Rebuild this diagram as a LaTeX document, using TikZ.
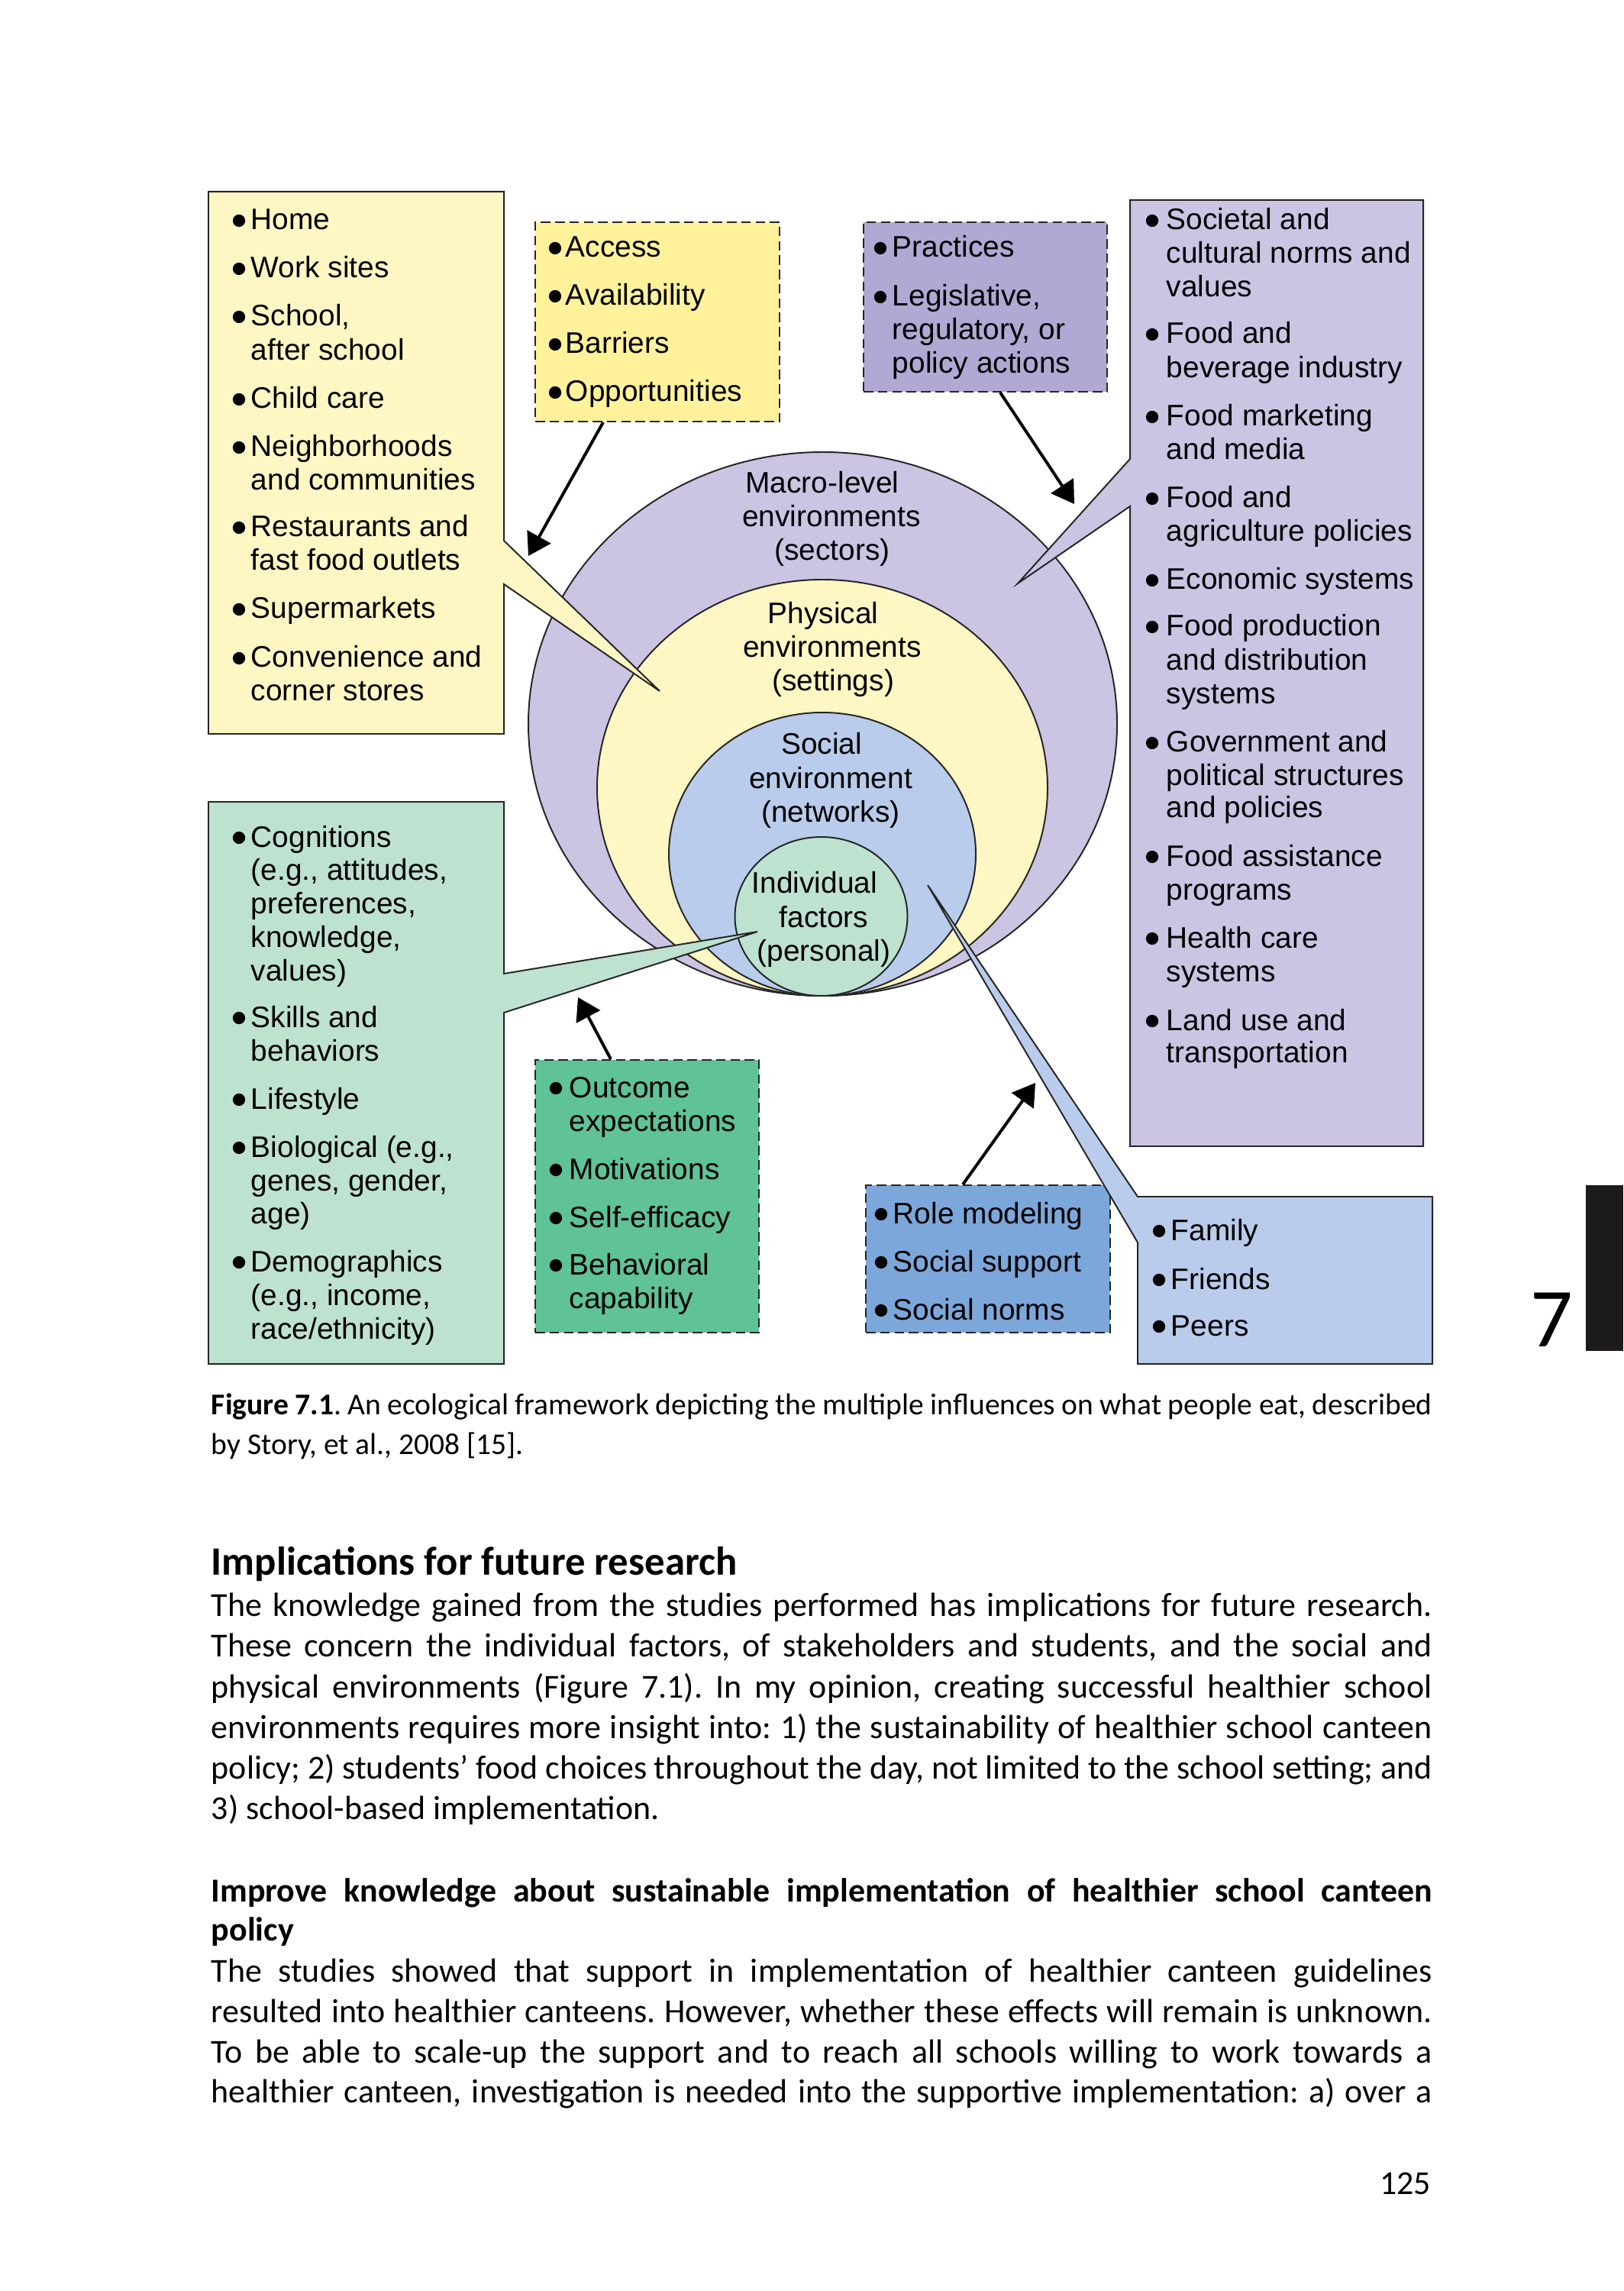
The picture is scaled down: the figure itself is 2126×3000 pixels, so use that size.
\documentclass[tikz,border=0pt]{standalone}
\usepackage{fontspec}
\setmainfont{Carlito}
\newfontfamily\arialfont{Liberation Sans}
\usetikzlibrary{arrows.meta,fit}

\definecolor{macroL}{HTML}{CBC5E3}
\definecolor{macroD}{HTML}{B1A9D4}
\definecolor{physL}{HTML}{FFF7C3}
\definecolor{physD}{HTML}{FFF29B}
\definecolor{socL}{HTML}{BACCEB}
\definecolor{socD}{HTML}{7CA7DA}
\definecolor{indL}{HTML}{BEE2D0}
\definecolor{indD}{HTML}{60C297}
\definecolor{tabgray}{HTML}{1C1A1A}

\newcommand{\jl}[1]{\makebox[127.9mm][s]{#1}}

\tikzset{
  lbl/.style={font=\arialfont\fontsize{8.85}{10}\selectfont, anchor=base west, inner sep=0pt},
  ring lbl/.style={lbl, anchor=base},
  dot/.style={circle, fill=black, inner sep=0pt, minimum size=1.3mm},
  boxline/.style={draw=black!85, line width=0.45pt},
  dashbox/.style={boxline, dash pattern=on 1mm off 0.5mm, inner sep=0pt},
  arr/.style={line width=0.9pt, -{Triangle[length=2.3mm,width=2.8mm]}},
  body/.style={font=\fontsize{10}{12}\selectfont, anchor=base west, inner sep=0pt},
  caption/.style={body, font=\fontsize{9}{11}\selectfont},
}

\begin{document}
\frenchspacing
\begin{tikzpicture}[x=0.08mm, y=-0.08mm]
  \useasboundingbox (0,0) rectangle (2126,3000);
  \fill[white] (0,0) rectangle (2126,3000);

  % nested levels
  \draw[boxline, fill=macroL] (1077.5,948) ellipse [x radius=385.5, y radius=356];
  \draw[boxline, fill=physL] (1077,1031.5) ellipse [x radius=295, y radius=272.5];
  \draw[boxline, fill=socL] (1077,1118.5) ellipse [x radius=201, y radius=185.5];
  \draw[boxline, fill=indL] (1075.5,1200) ellipse [x radius=113, y radius=104];

  % boxes with callouts
  \draw[boxline, fill=physL] (273,251) -- (660,251) -- (660,708) -- (864,905)
    -- (660,765) -- (660,961) -- (273,961) -- cycle;
  \draw[boxline, fill=macroL] (1480,262) -- (1864,262) -- (1864,1501) -- (1480,1501)
    -- (1480,663) -- (1333,764) -- (1480,601) -- cycle;
  \draw[boxline, fill=indL] (273,1050) -- (660,1050) -- (660,1275) -- (992,1220)
    -- (660,1326) -- (660,1786) -- (273,1786) -- cycle;

  % dashed boxes
  \node[dashbox, fill=physD, fit={(701,291) (1021,552)}] (access) {};
  \node[dashbox, fill=macroD, fit={(1131,291) (1450,513)}] (practice) {};
  \node[dashbox, fill=indD, fit={(701,1388) (994,1745)}] (outcome) {};
  \node[dashbox, fill=socD, fit={(1134,1552) (1454,1745)}] (role) {};

  \draw[boxline, fill=socL] (1490,1567) -- (1876,1567) -- (1876,1786) -- (1490,1786)
    -- (1490,1627) -- (1215,1159) -- cycle;

  % arrows
  \coordinate (access-tip) at (692,728);
  \coordinate (practice-tip) at (1407,660);
  \coordinate (outcome-tip) at (757,1306);
  \coordinate (role-tip) at (1356,1418);
  \draw[arr] (790,0 |- access.south) -- (access-tip);
  \draw[arr] (1310,0 |- practice.south) -- (practice-tip);
  \draw[arr] (800,0 |- outcome.north) -- (outcome-tip);
  \draw[arr] (1261,0 |- role.north) -- (role-tip);

  % level labels
  \foreach \x/\y/\t [count=\i] in {1077/646/Macro-level, 1089/690/environments, 1090/734/{(sectors)}}
    \node[ring lbl] (macro-\i) at (\x,\y) {\t};
  \foreach \x/\y/\t [count=\i] in {1078/817/Physical, 1090/861/environments, 1091/905/{(settings)}}
    \node[ring lbl] (phys-\i) at (\x,\y) {\t};
  \foreach \x/\y/\t [count=\i] in {1076/988/Social, 1088/1033/environment, 1088/1077/{(networks)}}
    \node[ring lbl] (soc-\i) at (\x,\y) {\t};
  \foreach \x/\y/\t [count=\i] in {1067/1170/Individual, 1079/1214/factors, 1079/1258/{(personal)}}
    \node[ring lbl] (ind-\i) at (\x,\y) {\t};

  % settings
  \foreach \y/\t [count=\i] in {301/Home, 364/Work sites, 427/{School,}, 472/after school,
      535/Child care, 598/Neighborhoods, 642/and communities, 703/Restaurants and,
      747/fast food outlets, 810/Supermarkets, 874/Convenience and, 918/corner stores}
    \node[lbl] (set-\i) at (328,\y) {\t};
  \foreach \y [count=\i] in {301,364,427,535,598,703,810,874}
    \node[dot] (set-dot-\i) at (313,\y-12) {};

  % access
  \foreach \y/\t [count=\i] in {337/Access, 400/Availability, 463/Barriers, 526/Opportunities}
    \node[lbl] (acc-\i) at (740,\y) {\t};
  \foreach \y [count=\i] in {337,400,463,526}
    \node[dot] (acc-dot-\i) at (727,\y-12) {};

  % practices
  \foreach \y/\t [count=\i] in {337/Practices, 401/{Legislative,}, 445/{regulatory, or}, 489/policy actions}
    \node[lbl] (prac-\i) at (1168,\y) {\t};
  \foreach \y [count=\i] in {337,401}
    \node[dot] (prac-dot-\i) at (1153,\y-12) {};

  % sectors
  \foreach \y/\t [count=\i] in {301/Societal and, 345/cultural norms and, 389/values,
      450/Food and, 495/beverage industry, 558/Food marketing, 602/and media,
      665/Food and, 709/agriculture policies, 772/Economic systems,
      833/Food production, 878/and distribution, 922/systems,
      985/Government and, 1029/political structures, 1071/and policies,
      1134/Food assistance, 1178/programs, 1241/Health care, 1285/systems,
      1349/Land use and, 1391/transportation}
    \node[lbl] (sec-\i) at (1527,\y) {\t};
  \foreach \y [count=\i] in {301,450,558,665,772,833,985,1134,1241,1349}
    \node[dot] (sec-dot-\i) at (1509,\y-12) {};

  % individual
  \foreach \y/\t [count=\i] in {1109/Cognitions, 1153/{(e.g., attitudes,}, 1196/{preferences,},
      1240/{knowledge,}, 1284/{values)}, 1345/Skills and, 1389/behaviors, 1452/Lifestyle,
      1515/{Biological (e.g.,}, 1559/{genes, gender,}, 1602/{age)}, 1665/Demographics,
      1709/{(e.g., income,}, 1753/{race/ethnicity)}}
    \node[lbl] (ind-item-\i) at (328,\y) {\t};
  \foreach \y [count=\i] in {1109,1345,1452,1515,1665}
    \node[dot] (ind-dot-\i) at (313,\y-12) {};

  % outcome
  \foreach \y/\t [count=\i] in {1437/Outcome, 1481/expectations, 1544/Motivations,
      1607/Self-efficacy, 1669/Behavioral, 1713/capability}
    \node[lbl] (out-\i) at (745,\y) {\t};
  \foreach \y [count=\i] in {1437,1544,1607,1669}
    \node[dot] (out-dot-\i) at (728,\y-12) {};

  % role
  \foreach \y/\t [count=\i] in {1602/Role modeling, 1665/Social support, 1728/Social norms}
    \node[lbl] (role-\i) at (1169,\y) {\t};
  \foreach \y [count=\i] in {1602,1665,1728}
    \node[dot] (role-dot-\i) at (1154,\y-12) {};

  % networks
  \foreach \y/\t [count=\i] in {1624/Family, 1688/Friends, 1749/Peers}
    \node[lbl] (net-\i) at (1533,\y) {\t};
  \foreach \y [count=\i] in {1624,1688,1749}
    \node[dot] (net-dot-\i) at (1518,\y-12) {};

  % caption and text
  \node[caption] (cap-1) at (276,1852) {\jl{\textbf{Figure 7.1}. An ecological framework depicting the multiple influences on what people eat, described}};
  \node[caption] (cap-2) at (276,1904) {by Story, et al., 2008 [15].};

  \node[body, font=\bfseries\fontsize{12}{14}\selectfont] (head-1) at (276,2062) {Implications for future research};
  \foreach \y/\t [count=\i] in {
      2116/{\jl{The knowledge gained from the studies performed has implications for future research.}},
      2169/{\jl{These concern the individual factors, of stakeholders and students, and the social and}},
      2223/{\jl{physical environments (Figure 7.1). In my opinion, creating successful healthier school}},
      2276/{\jl{environments requires more insight into: 1) the sustainability of healthier school canteen}},
      2329/{\jl{policy; 2) students’ food choices throughout the day, not limited to the school setting; and}},
      2382/{3) school-based implementation.}}
    \node[body] (par1-\i) at (276,\y) {\t};

  \node[body, font=\bfseries\fontsize{10}{12}\selectfont] (head-2a) at (276,2490) {\jl{Improve knowledge about sustainable implementation of healthier school canteen}};
  \node[body, font=\bfseries\fontsize{10}{12}\selectfont] (head-2b) at (276,2541) {policy};
  \foreach \y/\t [count=\i] in {
      2595/{\jl{The studies showed that support in implementation of healthier canteen guidelines}},
      2648/{\jl{resulted into healthier canteens. However, whether these effects will remain is unknown.}},
      2701/{\jl{To be able to scale-up the support and to reach all schools willing to work towards a}},
      2753/{\jl{healthier canteen, investigation is needed into the supportive implementation: a) over a}}}
    \node[body] (par2-\i) at (276,\y) {\t};

  % chapter tab and page number
  \fill[tabgray] (2077,1552) rectangle (2126,1769);
  \node[body, anchor=base, font=\fontsize{25}{25}\selectfont] (chapter) at (2032,1763) {7};
  \node[body, anchor=base east] (pageno) at (1875,2873) {125};
\end{tikzpicture}
\end{document}
